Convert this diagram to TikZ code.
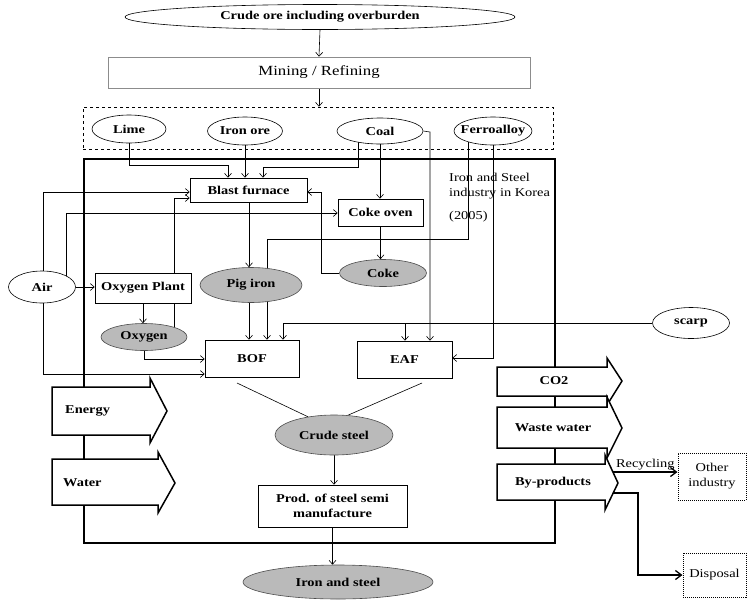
\documentclass[tikz,border=0pt]{standalone}
\usepackage{fontspec}
\setmainfont{Liberation Serif}[FakeStretch=1.2]
\usetikzlibrary{shapes.geometric,arrows.meta}
\pgfdeclarelayer{back}
\pgfdeclarelayer{mid}
\pgfsetlayers{back,mid,main}
\begin{document}
\begin{tikzpicture}[x=1pt,y=-1pt,
  font=\fontsize{12}{15}\selectfont\bfseries,
  regular/.style={font=\fontsize{12}{15}\selectfont},
  conn/.style={line width=0.6pt,-{Straight Barb[length=4pt,width=7pt]}},
  plainline/.style={line width=0.6pt},
  bigarrow/.style={line width=1.3pt,-{Straight Barb[length=6pt,width=9pt]}},
  oval/.style={draw,ellipse,inner sep=0pt,fill=white,line width=0.6pt},
  grayoval/.style={oval,fill=black!27,draw=black!70},
  box/.style={draw,rectangle,inner sep=0pt,fill=white,line width=0.6pt,align=center},
  blockarrow/.style={draw,fill=white,line width=1.5pt,line join=miter},
  thickbox/.style={draw,line width=1.8pt},
  dotbox/.style={draw,densely dotted,line width=1pt,inner sep=0pt,align=center,font=\fontsize{12}{15}\selectfont}
]
\useasboundingbox (0,0) rectangle (747,600);

% ---------- background: boundary and block arrows ----------
\begin{pgfonlayer}{back}
\draw[thickbox] (84,159) rectangle (555,543);
\path[blockarrow] (52,387) -- (150,387) -- (150,378) -- (167,411) -- (150,443) -- (150,435) -- (52,435) -- cycle;
\path[blockarrow] (52,459) -- (158,459) -- (158,452) -- (175,483) -- (158,513) -- (158,505) -- (52,505) -- cycle;
\path[blockarrow] (497,367) -- (607,367) -- (607,358) -- (622,381) -- (607,405) -- (607,396) -- (497,396) -- cycle;
\path[blockarrow] (497,407) -- (607,407) -- (607,397) -- (622,428) -- (607,458) -- (607,448) -- (497,448) -- cycle;
\path[blockarrow] (497,464) -- (605,464) -- (605,455) -- (618,483) -- (605,510) -- (605,500) -- (497,500) -- cycle;
\end{pgfonlayer}

% ---------- nodes ----------
\node[oval,minimum width=390pt,minimum height=25pt] (crude) at (320,17) {Crude ore including overburden};
\node[box,draw=black!45,minimum width=422pt,minimum height=31pt,font=\fontsize{14}{16}\selectfont] (mining) at (319,72.5) {Mining / Refining};
\node[draw,dashed,line width=0.6pt,inner sep=0pt,minimum width=470pt,minimum height=42pt] (raw) at (318,128) {};

\node[oval,minimum width=74pt,minimum height=28pt] (lime) at (129,129) {Lime};
\node[oval,minimum width=75pt,minimum height=28pt] (iron) at (245,131) {Iron ore};
\node[oval,minimum width=86pt,minimum height=26pt] (coal) at (380,131) {Coal};
\node[oval,minimum width=78pt,minimum height=28pt,label=center:Ferroalloy] (ferro) at (493,131) {};

\node[box,minimum width=117pt,minimum height=24pt] (bf) at (248.5,190) {Blast furnace};
\node[box,minimum width=85pt,minimum height=27pt] (cokeoven) at (380.5,212.5) {Coke oven};
\node[regular,anchor=north west,align=left,inner sep=0pt] (korea) at (449,173) {Iron and Steel\\industry in Korea\\[8pt](2005)};

\node[grayoval,minimum width=87pt,minimum height=27pt] (coke) at (383,273) {Coke};
\node[grayoval,minimum width=102pt,minimum height=35pt] (pig) at (251,285) {Pig iron};
\node[oval,minimum width=67pt,minimum height=32pt] (air) at (42,287) {Air};
\node[box,minimum width=96pt,minimum height=30pt] (oxplant) at (143,288) {Oxygen Plant};
\node[grayoval,minimum width=86pt,minimum height=27pt] (oxygen) at (144,337) {Oxygen};
\node[oval,minimum width=77pt,minimum height=31pt] (scarp) at (691,323) {scarp};

\node[box,minimum width=94pt,minimum height=37pt] (bof) at (252,358.5) {BOF};
\node[box,minimum width=95pt,minimum height=37pt] (eaf) at (404.5,359.5) {EAF};

\node[anchor=west,inner sep=0pt] (energyT) at (65,411) {Energy};
\node[anchor=west,inner sep=0pt] (waterT) at (63,483) {Water};
\node (co2T) at (554,381) {CO2};
\node (wasteT) at (553,428) {Waste water};
\node (byT) at (553,483) {By-products};

\node[grayoval,minimum width=118pt,minimum height=40pt] (cs) at (334,435) {Crude steel};
\node[box,minimum width=149pt,minimum height=42pt] (prod) at (332.5,506) {Prod. of steel semi\\manufacture};
\node[grayoval,minimum width=190pt,minimum height=34pt] (is) at (338,582) {Iron and steel};

\node[dotbox,minimum width=68pt,minimum height=47pt] (other) at (712,476.5) {Other\\industry};
\node[dotbox,minimum width=63pt,minimum height=44pt] (disposal) at (714.5,575) {Disposal};

% ---------- turning points ----------
\coordinate (limeK) at (228,165);
\coordinate (coalK) at (358,167);
\coordinate (coalK2) at (263,167);
\coordinate (coalE) at (430,132);
\coordinate (fbA) at (468,239);
\coordinate (fbB) at (267,239);
\coordinate (feA) at (493,358);
\coordinate (cbA) at (321,192);
\coordinate (pbx) at (249,0);
\coordinate (obA) at (174,198);
\coordinate (obo) at (145,359);
\coordinate (abA) at (43,192);
\coordinate (acA) at (66,213);
\coordinate (aboA) at (43,374);
\coordinate (scA) at (283,323);
\coordinate (scB) at (405,323);
\coordinate (bcA) at (237,383);
\coordinate (ecA) at (422,383);
\coordinate (recA) at (613,472);
\coordinate (disA) at (613,493);
\coordinate (disB) at (638,493);

% ---------- connectors ----------
\begin{pgfonlayer}{mid}
\draw[conn] (crude.south) -- (mining.north);
\draw[conn] (mining.south) -- (mining.south |- raw.north);
\draw[conn] (lime.center) |- (limeK) -- (limeK |- bf.north);
\draw[conn] (iron.center) -- (iron.center |- bf.north);
\draw[conn] (coalK |- coal.center) -- (coalK) -- (coalK2) -- (coalK2 |- bf.north);
\draw[conn] (coal.center) -- (coal.center |- cokeoven.north);
\draw[conn] (coal.east) -- (coalE) -- (coalE |- eaf.north);
\draw[conn] (fbA |- ferro.center) -- (fbA) -- (fbB) -- (fbB |- bof.north);
\draw[conn] (ferro.center) -- (feA) -- (feA -| eaf.east);
\draw[conn] (cokeoven.south) -- (cokeoven.south |- coke.north);
\draw[conn] (coke.west) -| (cbA) -- (cbA -| bf.east);
\draw[conn] (pbx |- bf.south) -- (pbx |- pig.north);
\draw[conn] (pbx |- pig.south) -- (pbx |- bof.north);
\draw[conn] (air.east) -- (air.east -| oxplant.west);
\draw[conn] (oxplant.south) -- (oxplant.south |- oxygen.north);
\draw[conn] (obA |- oxygen.center) -- (obA) -- (obA -| bf.west);
\draw[conn] (oxygen.south) |- (obo -| bof.west);
\draw[conn] (abA |- air.center) -- (abA) -- (abA -| bf.west);
\draw[conn] (acA |- air.center) -- (acA) -- (acA -| cokeoven.west);
\draw[conn] (aboA |- air.center) -- (aboA) -- (aboA -| bof.west);
\draw[conn] (scarp.west) -- (scA) -- (scA |- bof.north);
\draw[conn] (scB) -- (scB |- eaf.north);
\draw[plainline] (bcA) -- (cs.145);
\draw[plainline] (ecA) -- (cs.55);
\draw[conn] (cs.south) -- (cs.south |- prod.north);
\draw[conn] (prod.south) -- (prod.south |- is.north);
\draw[bigarrow] (recA) -- (recA -| other.west) node[midway,above,regular,inner sep=1pt] (recT) {Recycling};
\draw[bigarrow] (disA) -- (disB) |- (disposal.west);
\end{pgfonlayer}
\end{tikzpicture}
\end{document}
